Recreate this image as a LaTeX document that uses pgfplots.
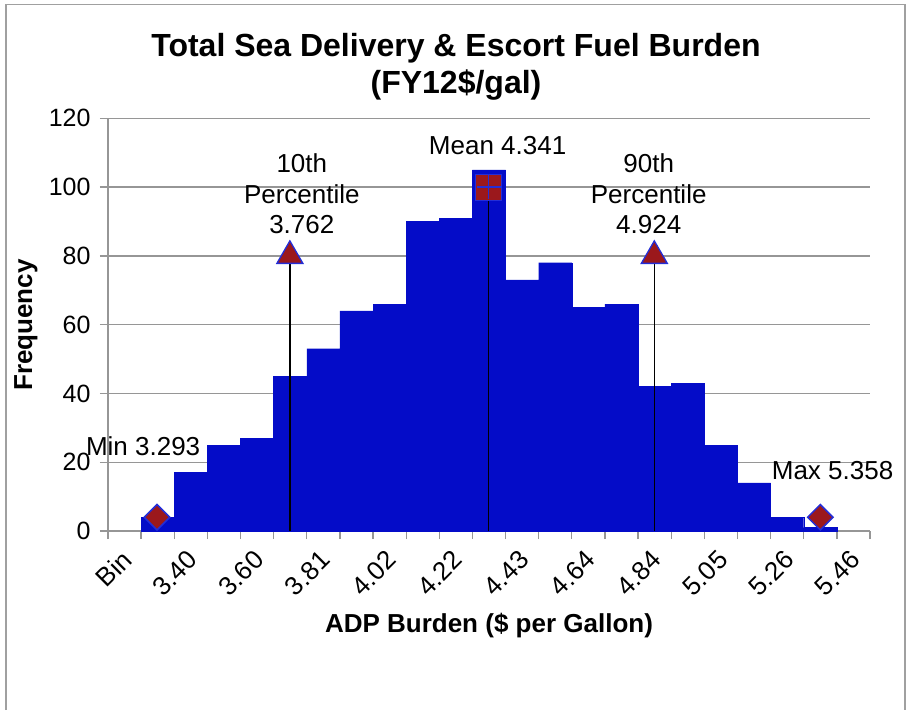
\documentclass[border=0pt]{standalone}
\usepackage{fontspec}
\setmainfont{Liberation Sans}
\usepackage{pgfplots}
\pgfplotsset{compat=1.18}

\definecolor{barblue}{RGB}{4,12,200}
\definecolor{markred}{RGB}{155,24,28}
\definecolor{markedge}{RGB}{35,45,215}
\definecolor{gridgray}{RGB}{150,150,150}
\definecolor{framegray}{RGB}{160,160,160}

\begin{document}
\begin{tikzpicture}[x=1pt,y=1pt]
\path[use as bounding box] (0,0) rectangle (907,710);
\draw[framegray, line width=1.6pt] (6,0) -- (6,705.3) -- (905,705.3) -- (905,0);

% title and axis labels
\node[font=\bfseries\fontsize{32}{37}\selectfont, align=center] at (456,643.5)
  {Total Sea Delivery \& Escort Fuel Burden\\(FY12\$/gal)};
\node[font=\bfseries\fontsize{26}{30}\selectfont, rotate=90] at (26,385) {Frequency};
\node[font=\bfseries\fontsize{26}{30}\selectfont] at (489,84) {ADP Burden (\$ per Gallon)};

\begin{axis}[
  at={(108pt,179pt)}, anchor=south west,
  width=762pt, height=412.7pt, scale only axis,
  xmin=0, xmax=23, ymin=0, ymax=120,
  clip=false,
  axis x line*=bottom, axis y line*=left,
  axis line style={gridgray, line width=1.3pt},
  ytick={0,20,...,120},
  ymajorgrids, grid style={gridgray, line width=1.3pt},
  tick align=outside, major tick length=8pt,
  tick style={gridgray, line width=1.3pt},
  /pgf/number format/assume math mode=true,
  tick label style={font=\fontsize{25}{25}\selectfont},
  xtick={0,...,23}, xticklabels={},
  extra x ticks={0.5,2.5,...,22.5},
  extra x tick labels={Bin,3.40,3.60,3.81,4.02,4.22,4.43,4.64,4.84,5.05,5.26,5.46},
  extra x tick style={major tick length=0pt, grid=none,
    xticklabel style={font=\fontsize{26}{26}\selectfont, xshift=-4.5pt, yshift=-17.5pt,
      rotate=45, anchor=north east, inner sep=0pt}},
  yticklabel style={xshift=-6pt},
]
% histogram frequencies, one bin per category
\addplot[ybar interval, fill=barblue, draw=barblue] coordinates {
  (1,4) (2,17) (3,25) (4,27) (5,45) (6,53) (7,64) (8,66) (9,90) (10,91)
  (11,105) (12,73) (13,78) (14,65) (15,66) (16,42) (17,43) (18,25) (19,14)
  (20,4) (21,1) (22,1)};

% percentile and mean drop lines
\addplot[black, line width=1.3pt] coordinates {(5.49,0) (5.49,80)};
\addplot[black, line width=1.3pt] coordinates {(11.49,0) (11.49,100)};
\addplot[black, line width=1.3pt] coordinates {(16.49,0) (16.49,80)};

% markers
\addplot[only marks, mark=square*, mark size=9,
  mark options={rotate=45, fill=markred, draw=markedge, line width=1.5pt}]
  coordinates {(1.48,4) (21.5,4)};
\addplot[only marks, mark=triangle*, mark size=15,
  mark options={fill=markred, draw=markedge, line width=1.3pt}]
  coordinates {(5.49,80) (16.49,80)};
\addplot[only marks, mark=square*, mark size=13,
  mark options={fill=markred, draw=markedge, line width=1pt}]
  coordinates {(11.49,100)};
\addplot[only marks, mark=+, mark size=12,
  mark options={draw=markedge, line width=1.6pt}]
  coordinates {(11.49,100)};

% annotations
\begin{scope}[font=\fontsize{26}{30.5}\selectfont]
\node[align=center] at (axis cs:1.06,24.7) {Min 3.293};
\node[align=center] at (axis cs:21.87,17.5) {Max 5.358};
\node[align=center] at (axis cs:5.85,98) {10th\\Percentile\\3.762};
\node[align=center] at (axis cs:16.32,98) {90th\\Percentile\\4.924};
\node[align=center] at (axis cs:11.76,112.2) {Mean 4.341};
\end{scope}
\end{axis}
\end{tikzpicture}
\end{document}
